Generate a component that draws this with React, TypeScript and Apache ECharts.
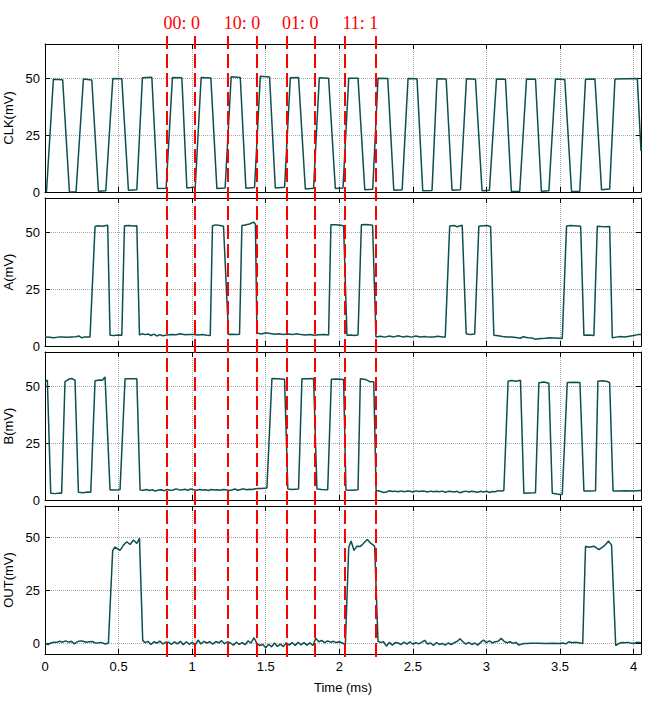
import React, { useEffect, useRef } from "react";
import * as echarts from "echarts";

const X_TICKS = [0, 0.5, 1, 1.5, 2, 2.5, 3, 3.5, 4];
const Y_TICKS = [0, 25, 50];
const PANEL_NAMES = ["CLK(mV)", "A(mV)", "B(mV)", "OUT(mV)"];
const PANEL_MIN = [0, 0, 0, -5];
const PANEL_MAX = [65, 65, 65, 65];

const CLK: number[][] = [
  [0.01, 0], [0.057, 49.5], [0.12, 49.3], [0.166, 0], [0.211, 0.1], [0.261, 49.6], [0.318, 49.2], [0.363, 0.3],
  [0.413, 0.5], [0.461, 49.8], [0.522, 49.7], [0.567, 0.8], [0.624, 1.0], [0.662, 50.2], [0.726, 50.4], [0.764, 1.5],
  [0.823, 1.6], [0.866, 50.3], [0.93, 50.2], [0.964, 1.8], [1.021, 2.2], [1.061, 50.3], [1.127, 50.1], [1.168, 1.5],
  [1.224, 1.8], [1.265, 50.6], [1.327, 50.3], [1.365, 1.7], [1.424, 2.0], [1.463, 50.8], [1.526, 50.5], [1.565, 1.8],
  [1.628, 2.1], [1.667, 50.2], [1.723, 50.3], [1.769, 1.3], [1.825, 1.6], [1.864, 50.2], [1.927, 50.0], [1.973, 1.5],
  [2.025, 1.8], [2.064, 50.0], [2.127, 50.0], [2.173, 1.0], [2.227, 1.2], [2.263, 50.0], [2.329, 49.9], [2.37, 0.8],
  [2.427, 1.0], [2.467, 49.8], [2.528, 49.7], [2.567, 0.5], [2.63, 0.7], [2.664, 49.7], [2.726, 49.6], [2.766, 0.8],
  [2.823, 1.0], [2.864, 49.7], [2.925, 49.5], [2.97, 0.5], [3.02, 0.8], [3.068, 49.6], [3.129, 49.5], [3.169, 0.2],
  [3.226, 0.3], [3.272, 49.6], [3.333, 49.5], [3.373, 0.3], [3.424, 0.5], [3.469, 49.6], [3.532, 49.4], [3.578, 0.2],
  [3.634, 0.3], [3.673, 49.5], [3.737, 49.6], [3.782, 1.0], [3.837, 1.3], [3.873, 49.6], [3.95, 49.7], [4.025, 49.8],
  [4.05, 18],
];

const A: number[][] = [
  [0, 4.0], [0.03, 3.8], [0.06, 3.6], [0.09, 3.9], [0.12, 4.0], [0.15, 3.8], [0.18, 4.0], [0.21, 4.1], [0.23, 4.4],
  [0.25, 3.6], [0.27, 4.0], [0.306, 4.0], [0.34, 52.5], [0.36, 52.8], [0.39, 52.6], [0.426, 53.0], [0.442, 4.7],
  [0.47, 4.6], [0.5, 4.8], [0.522, 4.7], [0.54, 52.8], [0.57, 52.9], [0.6, 52.7], [0.624, 52.8], [0.642, 4.8],
  [0.66, 5.4], [0.68, 5.0], [0.7, 5.3], [0.72, 4.6], [0.74, 5.2], [0.76, 4.4], [0.78, 5.0], [0.8, 4.5], [0.83, 4.8],
  [0.86, 5.0], [0.89, 4.9], [0.92, 5.4], [0.95, 4.9], [0.98, 5.0], [1.01, 5.1], [1.04, 4.8], [1.07, 5.0], [1.1, 4.7],
  [1.123, 4.6], [1.138, 52.8], [1.16, 53.2], [1.19, 52.9], [1.213, 52.6], [1.247, 5.0], [1.27, 5.2], [1.3, 5.0],
  [1.322, 5.2], [1.338, 52.9], [1.36, 53.1], [1.39, 53.6], [1.417, 54.4], [1.43, 53.5], [1.44, 5.7], [1.47, 5.3],
  [1.5, 5.8], [1.53, 5.5], [1.56, 5.2], [1.59, 5.4], [1.62, 5.1], [1.65, 5.3], [1.68, 5.0], [1.71, 5.4], [1.74, 5.0],
  [1.77, 4.8], [1.8, 5.0], [1.83, 4.7], [1.86, 4.9], [1.9, 5.0], [1.927, 4.8], [1.943, 53.2], [1.97, 53.3], [2.0, 53.1],
  [2.029, 52.8], [2.052, 4.7], [2.08, 4.8], [2.1, 4.6], [2.127, 4.8], [2.15, 53.2], [2.18, 53.4], [2.2, 53.3],
  [2.226, 53.0], [2.249, 4.0], [2.28, 4.3], [2.31, 3.9], [2.34, 4.4], [2.37, 4.0], [2.4, 4.5], [2.43, 4.0], [2.46, 4.3],
  [2.49, 3.9], [2.52, 4.4], [2.55, 4.0], [2.58, 4.2], [2.61, 3.9], [2.64, 4.0], [2.67, 4.3], [2.7, 4.0], [2.72, 4.0],
  [2.75, 52.7], [2.78, 52.9], [2.8, 52.4], [2.835, 53.0], [2.862, 5.4], [2.89, 5.0], [2.92, 5.3], [2.948, 52.6],
  [2.98, 52.8], [3.0, 52.9], [3.028, 52.5], [3.05, 4.7], [3.08, 4.5], [3.11, 4.2], [3.14, 4.0], [3.17, 3.9], [3.2, 3.7],
  [3.23, 3.4], [3.25, 4.1], [3.28, 3.6], [3.31, 3.5], [3.33, 3.0], [3.37, 3.3], [3.4, 3.4], [3.43, 3.6], [3.46, 3.5],
  [3.49, 3.4], [3.515, 3.3], [3.544, 52.7], [3.57, 52.9], [3.6, 52.8], [3.64, 52.6], [3.662, 4.7], [3.69, 4.8],
  [3.73, 4.6], [3.753, 52.6], [3.78, 52.5], [3.81, 52.4], [3.837, 52.5], [3.855, 3.6], [3.88, 3.9], [3.91, 4.2],
  [3.94, 4.0], [3.97, 4.3], [4.0, 4.6], [4.03, 5.0], [4.05, 5.1],
];

const B: number[][] = [
  [0.0, 52.0], [0.016, 52.6], [0.039, 3.0], [0.07, 2.8], [0.1, 3.1], [0.113, 3.0], [0.136, 52.0], [0.16, 53.0],
  [0.181, 53.4], [0.204, 52.6], [0.227, 3.4], [0.26, 3.2], [0.29, 3.5], [0.311, 3.4], [0.34, 52.4], [0.37, 52.7],
  [0.39, 52.6], [0.408, 54.0], [0.442, 4.4], [0.47, 4.4], [0.51, 4.5], [0.544, 53.2], [0.58, 53.2], [0.624, 53.2],
  [0.646, 4.4], [0.67, 4.3], [0.69, 4.6], [0.71, 4.2], [0.73, 4.5], [0.75, 3.9], [0.77, 4.4], [0.79, 4.5], [0.81, 4.1],
  [0.83, 4.6], [0.85, 4.3], [0.87, 4.4], [0.89, 4.9], [0.91, 4.5], [0.93, 4.4], [0.95, 4.7], [0.97, 4.3], [0.99, 4.8],
  [1.01, 4.5], [1.03, 4.3], [1.05, 4.6], [1.07, 4.4], [1.09, 4.5], [1.11, 4.2], [1.13, 4.6], [1.15, 4.4], [1.17, 4.5],
  [1.19, 4.3], [1.21, 4.6], [1.23, 4.5], [1.25, 4.2], [1.27, 4.4], [1.29, 4.8], [1.31, 4.3], [1.33, 4.6], [1.35, 4.9],
  [1.37, 4.5], [1.39, 4.7], [1.41, 4.6], [1.43, 4.9], [1.45, 5.0], [1.47, 5.0], [1.49, 5.2], [1.508, 5.3],
  [1.542, 53.4], [1.58, 53.3], [1.628, 53.0], [1.65, 4.8], [1.68, 4.6], [1.723, 4.8], [1.746, 53.3], [1.78, 53.2],
  [1.825, 53.4], [1.848, 4.8], [1.88, 4.6], [1.921, 4.5], [1.946, 53.0], [1.98, 53.1], [2.029, 52.9], [2.045, 4.4],
  [2.08, 4.3], [2.127, 4.5], [2.143, 53.2], [2.18, 52.9], [2.21, 51.9], [2.234, 51.9], [2.25, 4.2], [2.28, 3.8],
  [2.3, 3.3], [2.32, 3.5], [2.34, 4.1], [2.36, 3.7], [2.38, 3.9], [2.4, 3.6], [2.42, 4.0], [2.44, 3.6], [2.46, 3.9],
  [2.48, 3.8], [2.5, 3.5], [2.52, 4.0], [2.54, 3.7], [2.56, 3.9], [2.58, 3.8], [2.6, 3.5], [2.62, 3.9], [2.64, 3.6],
  [2.66, 3.8], [2.68, 3.6], [2.7, 3.9], [2.72, 3.4], [2.74, 3.8], [2.76, 3.7], [2.78, 3.5], [2.8, 3.8], [2.82, 3.2],
  [2.84, 3.6], [2.86, 3.9], [2.88, 3.5], [2.9, 3.8], [2.92, 3.6], [2.94, 3.4], [2.96, 3.8], [2.98, 3.5], [3.0, 3.9],
  [3.02, 3.3], [3.04, 3.7], [3.06, 3.6], [3.08, 4.1], [3.1, 4.0], [3.118, 4.2], [3.147, 52.2], [3.17, 52.5],
  [3.2, 52.2], [3.231, 52.6], [3.254, 3.0], [3.29, 3.1], [3.333, 3.2], [3.356, 51.5], [3.39, 51.8], [3.424, 51.3],
  [3.447, 3.0], [3.48, 2.6], [3.5, 2.4], [3.515, 2.5], [3.549, 51.6], [3.59, 51.7], [3.635, 51.6], [3.662, 4.0],
  [3.7, 4.0], [3.741, 4.1], [3.757, 52.2], [3.79, 52.4], [3.822, 52.0], [3.837, 51.5], [3.86, 4.0], [3.9, 4.0],
  [3.95, 4.1], [4.0, 3.9], [4.05, 4.2],
];

const OUT: number[][] = [
  [0, 0.3], [0.02, -0.5], [0.04, 0.2], [0.06, 0.6], [0.08, 0.5], [0.1, 1.0], [0.12, 0.6], [0.14, 1.2], [0.16, 0.6],
  [0.18, 1.0], [0.2, -0.2], [0.22, 0.8], [0.24, 1.2], [0.26, 1.0], [0.28, 0.6], [0.3, 0.8], [0.32, 0.9], [0.34, 0.3],
  [0.36, 0.2], [0.38, 0.5], [0.41, -0.3], [0.431, 0.2], [0.46, 44.0], [0.476, 45.6], [0.51, 44.0], [0.533, 46.5],
  [0.556, 48.1], [0.578, 46.8], [0.601, 48.9], [0.624, 47.3], [0.642, 49.7], [0.664, 1.3], [0.68, 0.4], [0.7, 1.0],
  [0.72, -0.5], [0.74, 0.8], [0.76, 0.2], [0.78, 1.1], [0.8, -0.3], [0.82, 0.6], [0.84, 0.5], [0.86, -0.4], [0.88, 0.7],
  [0.9, -0.2], [0.92, 1.0], [0.94, -0.6], [0.96, 0.8], [0.98, -0.4], [1.0, 0.5], [1.02, -0.8], [1.04, 1.6],
  [1.06, -0.3], [1.08, 1.0], [1.1, 0.2], [1.12, 0.8], [1.14, -0.3], [1.16, 0.9], [1.18, 0.3], [1.2, 1.3], [1.22, -0.2],
  [1.24, 0.8], [1.26, 0.2], [1.28, -0.8], [1.3, 0.6], [1.32, -0.5], [1.34, 0.4], [1.36, -0.6], [1.38, 1.2], [1.4, 0.2],
  [1.42, 2.7], [1.44, 0.0], [1.46, -1.0], [1.48, -0.5], [1.5, -2.0], [1.52, -0.4], [1.54, -1.6], [1.56, 0.2],
  [1.58, -1.4], [1.6, -0.3], [1.62, -1.5], [1.64, 0.3], [1.66, -0.8], [1.68, 0.4], [1.7, -1.0], [1.72, 0.5],
  [1.74, -0.7], [1.76, 0.4], [1.78, -0.8], [1.8, 0.3], [1.82, -1.0], [1.84, 2.4], [1.86, 0.8], [1.88, 1.4], [1.9, 0.4],
  [1.92, 1.2], [1.94, 0.6], [1.96, 1.0], [1.98, 0.4], [2.0, 0.8], [2.02, 0.2], [2.041, -0.5], [2.064, 45.5],
  [2.08, 48.4], [2.1, 44.0], [2.12, 46.0], [2.14, 45.8], [2.16, 47.0], [2.19, 49.2], [2.21, 47.6], [2.24, 46.0],
  [2.263, 1.0], [2.28, 0.5], [2.3, 0.8], [2.32, -1.3], [2.34, 0.5], [2.36, -0.8], [2.38, 0.4], [2.4, 0.2],
  [2.42, -0.5], [2.44, 0.6], [2.46, -0.3], [2.48, 0.8], [2.5, -0.4], [2.52, 0.3], [2.54, -0.2], [2.56, 0.6],
  [2.58, 1.5], [2.6, -0.3], [2.62, 0.2], [2.64, -1.0], [2.66, 0.4], [2.68, -0.5], [2.7, 0.0], [2.72, -0.8], [2.74, 0.2],
  [2.76, -0.5], [2.78, 0.3], [2.8, 1.0], [2.82, 2.2], [2.84, 0.8], [2.86, -0.3], [2.88, 0.5], [2.9, -0.5], [2.92, 0.2],
  [2.94, -0.8], [2.96, 0.5], [2.98, 1.6], [3.0, 0.4], [3.02, 1.2], [3.04, 0.3], [3.06, 0.8], [3.08, 1.0], [3.1, 2.4],
  [3.12, 1.0], [3.14, 0.3], [3.16, 0.8], [3.18, 0.0], [3.2, 0.5], [3.22, -0.8], [3.24, -0.3], [3.26, 0.0], [3.28, 0.0],
  [3.3, 0.1], [3.35, 0.1], [3.4, 0.0], [3.45, 0.1], [3.5, 0.0], [3.52, 0.2], [3.54, -0.2], [3.56, 0.8], [3.58, 0.3],
  [3.6, 0.6], [3.62, 0.4], [3.654, 0.0], [3.673, 46.0], [3.696, 45.5], [3.73, 46.0], [3.764, 44.4], [3.798, 46.0],
  [3.83, 48.4], [3.85, 46.5], [3.878, -1.0], [3.9, 0.0], [3.92, 0.4], [3.94, 0.3], [3.96, 0.5], [3.98, 0.2], [4.0, 0.0],
  [4.02, 0.5], [4.05, 0.3],
];

const SIGNALS = [CLK, A, B, OUT];
const MARKERS = [0.835, 1.023, 1.236, 1.442, 1.64, 1.83, 2.041, 2.245];
const MARKER_LABELS = ["00: 0", "10: 0", "01: 0", "11: 1"];

const X_MIN = 0;
const X_MAX = 4.05;

export default function App() {
  const ref = useRef<HTMLDivElement>(null);

  useEffect(() => {
    if (!ref.current) return;
    const chart = echarts.init(ref.current, undefined, { renderer: "svg" });

    const tops = [44, 198, 352, 506];
    const panelH = 148;
    const left = 45;
    const right = 19;
    const font = "Liberation Sans";
    const black = "#000";
    const gridColor = "#a8a8a8";

    const gridBase = { left, right, containLabel: false, outerBoundsMode: "none" };
    const grid: any[] = tops.map((t) => ({ ...gridBase, top: t, height: panelH }));
    grid.push({ ...gridBase, top: 36, height: 621 });

    const xAxis: any[] = [];
    const yAxis: any[] = [];
    const series: any[] = [];

    tops.forEach((_, i) => {
      xAxis.push({
        type: "value",
        gridIndex: i,
        min: X_MIN,
        max: X_MAX,
        position: "bottom",
        axisLine: { show: true, onZero: false, lineStyle: { color: black, width: 1 } },
        axisTick: { show: true, inside: true, length: 5, customValues: X_TICKS, lineStyle: { color: black } },
        axisLabel: {
          show: i === 3,
          customValues: X_TICKS,
          color: black,
          fontSize: 13,
          fontFamily: font,
          margin: 6,
        },
        splitLine: { show: true, lineStyle: { color: gridColor, type: "dotted", width: 1 } },
        name: i === 3 ? "Time (ms)" : "",
        nameLocation: "middle",
        nameGap: 27,
        nameTextStyle: { color: black, fontSize: 13, fontFamily: font },
      });
      xAxis.push({
        type: "value",
        gridIndex: i,
        min: X_MIN,
        max: X_MAX,
        position: "top",
        axisLine: { show: true, onZero: false, lineStyle: { color: black, width: 1 } },
        axisTick: { show: true, inside: true, length: 5, customValues: X_TICKS, lineStyle: { color: black } },
        axisLabel: { show: false },
        splitLine: { show: false },
      });
      yAxis.push({
        type: "value",
        gridIndex: i,
        min: PANEL_MIN[i],
        max: PANEL_MAX[i],
        position: "left",
        axisLine: { show: true, onZero: false, lineStyle: { color: black, width: 1 } },
        axisTick: { show: true, inside: true, length: 5, customValues: Y_TICKS, lineStyle: { color: black } },
        axisLabel: { show: true, customValues: Y_TICKS, color: black, fontSize: 13, fontFamily: font, margin: 5 },
        splitLine: { show: true, lineStyle: { color: gridColor, type: "dotted", width: 1 } },
        name: PANEL_NAMES[i],
        nameLocation: "middle",
        nameGap: 24,
        nameTextStyle: { color: black, fontSize: 13, fontFamily: font },
      });
      yAxis.push({
        type: "value",
        gridIndex: i,
        min: PANEL_MIN[i],
        max: PANEL_MAX[i],
        position: "right",
        axisLine: { show: true, onZero: false, lineStyle: { color: black, width: 1 } },
        axisTick: { show: true, inside: true, length: 5, customValues: Y_TICKS, lineStyle: { color: black } },
        axisLabel: { show: false },
        splitLine: { show: false },
      });
      series.push({
        type: "line",
        name: PANEL_NAMES[i],
        xAxisIndex: 2 * i,
        yAxisIndex: 2 * i,
        data: SIGNALS[i],
        symbol: "none",
        showSymbol: false,
        lineStyle: { color: "#0e4f4f", width: 1.5 },
        z: 3,
      });
    });

    // overlay axes spanning all panels for the marker lines
    xAxis.push({ type: "value", gridIndex: 4, min: X_MIN, max: X_MAX, show: false });
    yAxis.push({ type: "value", gridIndex: 4, min: 0, max: 1, show: false });

    const pairs: number[][] = [];
    for (let k = 0; k < MARKERS.length; k += 2) pairs.push([MARKERS[k], MARKERS[k + 1]]);

    series.push({
      type: "line",
      xAxisIndex: 8,
      yAxisIndex: 8,
      data: [],
      symbol: "none",
      z: 10,
      markLine: {
        silent: true,
        symbol: ["none", "none"],
        label: { show: false },
        lineStyle: { color: "#ff0000", type: [14, 5], width: 2 },
        data: MARKERS.map((m) => ({ xAxis: m })),
        z: 10,
      },
      markArea: {
        silent: true,
        itemStyle: { color: "rgba(0,0,0,0)" },
        label: {
          show: true,
          position: "top",
          formatter: "{b}",
          color: "#ff0000",
          fontSize: 18,
          fontFamily: "Liberation Serif",
          distance: 4,
        },
        data: pairs.map((p, k) => [{ xAxis: p[0], name: MARKER_LABELS[k] }, { xAxis: p[1] }]),
      },
    });

    chart.setOption({
      animation: false,
      backgroundColor: "#fff",
      grid,
      xAxis,
      yAxis,
      series,
    });

    return () => chart.dispose();
  }, []);

  return (
    <div
      ref={ref}
      style={{ position: "fixed", left: 0, top: 0, width: 660, height: 707 }}
    />
  );
}
